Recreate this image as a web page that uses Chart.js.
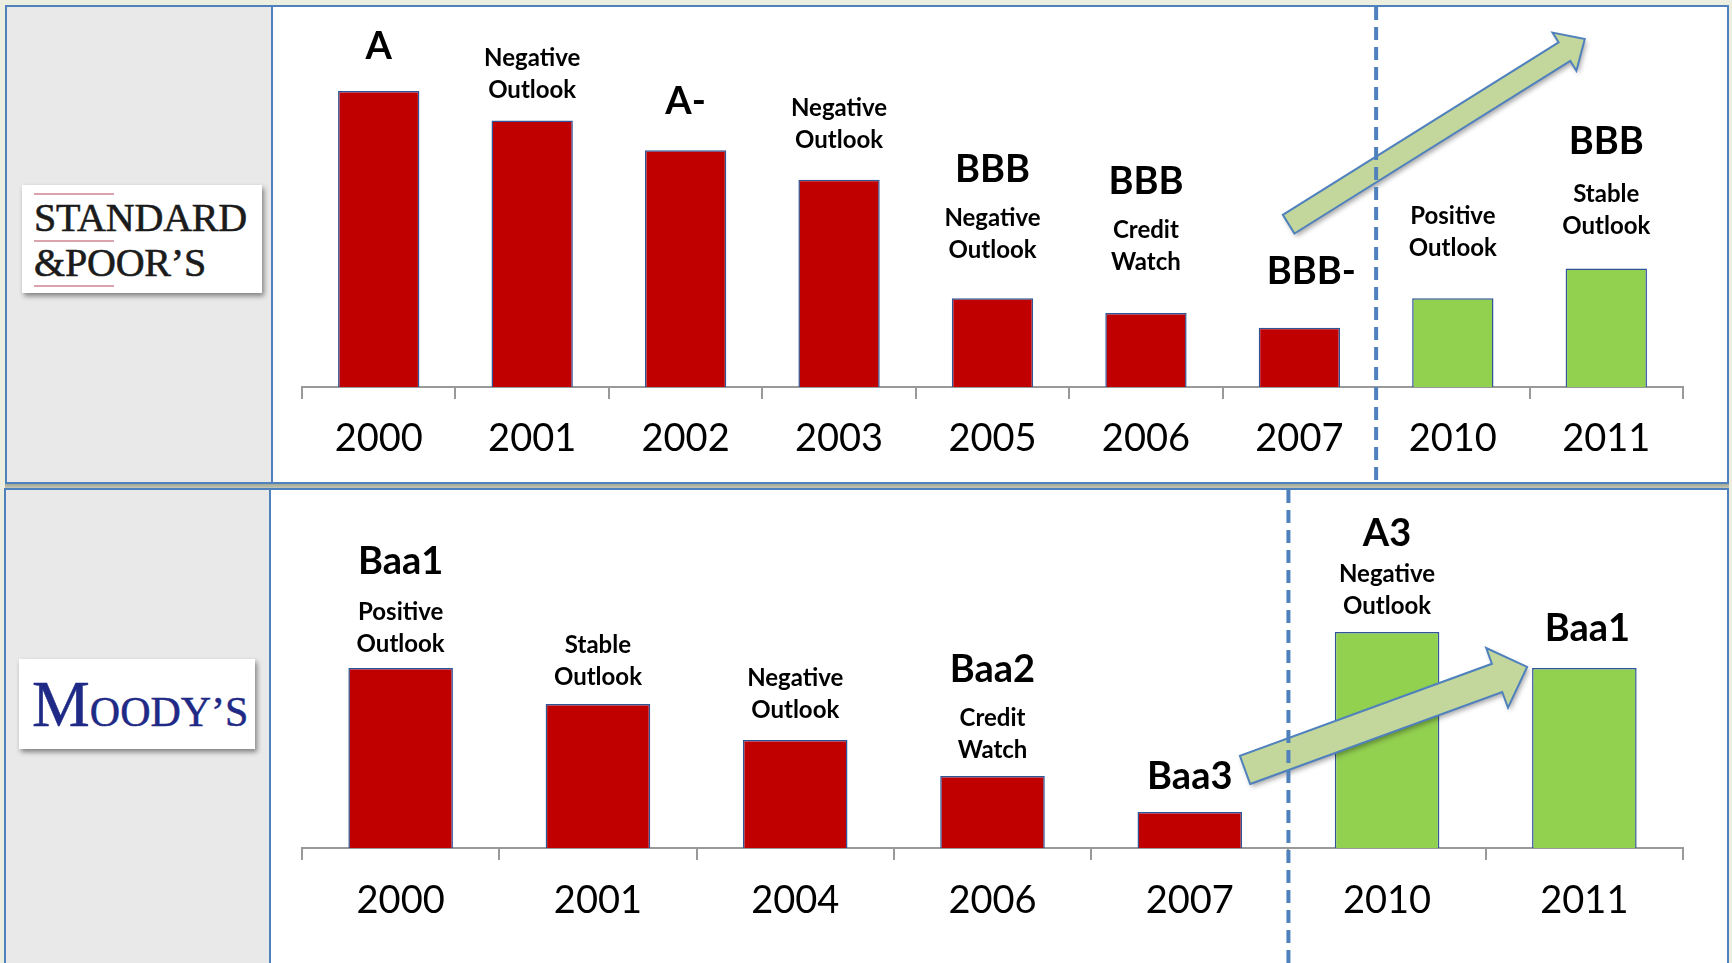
<!DOCTYPE html>
<html>
<head>
<meta charset="utf-8">
<script src="https://cdn.jsdelivr.net/npm/chart.js@4/dist/chart.umd.min.js"></script>
<style>
html,body{margin:0;padding:0;}
body{width:1732px;height:963px;background:#eceee0;position:relative;overflow:hidden;font-family:Lato,sans-serif;}
.panel{position:absolute;border:2px solid #4f81bd;background:#fff;box-sizing:border-box;}
#p1{left:5px;top:5px;width:1724px;height:479px;}
#p2{left:4px;top:488px;width:1725px;height:490px;}
.side{position:absolute;left:0;top:0;bottom:0;background:#e9e9e9;border-right:2px solid #4f81bd;}
#s1{width:264px;}
#s2{width:263px;}
#band{position:absolute;left:5px;top:484px;width:1724px;height:4px;background:linear-gradient(#a3a692,#c4c6b6);}
.logo{position:absolute;background:#fff;box-shadow:2px 3px 5px rgba(0,0,0,0.45);}
#sp{left:22px;top:185px;width:240px;height:108px;}
#md{left:19px;top:659px;width:236px;height:90px;}
.pink{position:absolute;left:12px;width:80px;height:2px;background:#dba3ab;}
.sptxt{position:absolute;left:12px;font-family:'Liberation Serif',serif;font-size:40px;line-height:40px;color:#1b1b1b;white-space:nowrap;letter-spacing:-0.2px;-webkit-text-stroke:0.6px #1b1b1b;}
.mdtxt{position:absolute;left:13px;font-family:'Liberation Serif',serif;color:#1f2a86;white-space:nowrap;font-size:65px;line-height:65px;-webkit-text-stroke:0.5px #1f2a86;}
.mdtxt span{font-size:42px;line-height:1;}
canvas{position:absolute;}
#c1{left:273px;top:7px;}
#c2{left:271px;top:490px;}
</style>
</head>
<body>
<div class="panel" id="p1"><div class="side" id="s1"></div></div>
<div id="band"></div>
<div class="panel" id="p2"><div class="side" id="s2"></div></div>

<div class="logo" id="sp">
  <div class="pink" style="top:8px"></div>
  <div class="sptxt" style="top:13px">STANDARD</div>
  <div class="pink" style="top:55px"></div>
  <div class="sptxt" style="top:58px">&amp;POOR’S</div>
  <div class="pink" style="top:100px"></div>
</div>
<div class="logo" id="md">
  <div class="mdtxt" style="top:13px">M<span>OODY’S</span></div>
</div>

<canvas id="c1" width="1454" height="475"></canvas>
<canvas id="c2" width="1456" height="473"></canvas>

<script>
// ---------- Standard & Poor's ----------
const spYears    = ['2000','2001','2002','2003','2005','2006','2007','2010','2011'];
const spValues   = [10, 9, 8, 7, 3, 2.5, 2, 3, 4];
const spRatings  = ['A','','A-','','BBB','BBB','BBB-','','BBB'];
const spOutlooks = ['','Negative Outlook','','Negative Outlook','Negative Outlook','Credit Watch','','Positive Outlook','Stable Outlook'];
const spTrend    = ['down','down','down','down','down','down','down','up','up'];
const spSplitAfter = '2007';

// ---------- Moody's ----------
const mdYears    = ['2000','2001','2004','2006','2007','2010','2011'];
const mdValues   = [5, 4, 3, 2, 1, 6, 5];
const mdRatings  = ['Baa1','','','Baa2','Baa3','A3','Baa1'];
const mdOutlooks = ['Positive Outlook','Stable Outlook','Negative Outlook','Credit Watch','','Negative Outlook',''];
const mdTrend    = ['down','down','down','down','down','up','up'];
const mdSplitAfter = '2007';

const trendColors = {down:'#c00000', up:'#92d050'};

function drawArrow(ctx, T, P, w, h, L) {
  const dx = P.x - T.x, dy = P.y - T.y;
  const len = Math.hypot(dx, dy);
  const ux = dx/len, uy = dy/len, nx = -uy, ny = ux;
  const J = {x: P.x - ux*L, y: P.y - uy*L};
  ctx.save();
  ctx.beginPath();
  ctx.moveTo(T.x + nx*w, T.y + ny*w);
  ctx.lineTo(J.x + nx*w, J.y + ny*w);
  ctx.lineTo(J.x + nx*h, J.y + ny*h);
  ctx.lineTo(P.x, P.y);
  ctx.lineTo(J.x - nx*h, J.y - ny*h);
  ctx.lineTo(J.x - nx*w, J.y - ny*w);
  ctx.lineTo(T.x - nx*w, T.y - ny*w);
  ctx.closePath();
  ctx.shadowColor = 'rgba(0,0,0,0.35)';
  ctx.shadowBlur = 5;
  ctx.shadowOffsetX = 2;
  ctx.shadowOffsetY = 3;
  ctx.fillStyle = '#c3d69b';
  ctx.fill();
  ctx.shadowColor = 'transparent';
  ctx.lineWidth = 2;
  ctx.strokeStyle = '#4f81bd';
  ctx.lineJoin = 'miter';
  ctx.stroke();
  ctx.restore();
}

const ratingPlugin = {
  id: 'ratingLabels',
  afterDatasetsDraw(chart, args, o) {
    const ctx = chart.ctx;
    const xs = chart.scales.x, ys = chart.scales.y;
    const meta = chart.getDatasetMeta(0);
    // trend arrow (anchored on the scales)
    const a = o.arrow;
    const T = {x: xs.getPixelForValue(a.from[0]), y: ys.getPixelForValue(a.from[1])};
    const P = {x: xs.getPixelForValue(a.to[0]), y: ys.getPixelForValue(a.to[1])};
    drawArrow(ctx, T, P, a.shaft, a.head, a.headLen);
    // dashed divider
    const labels = chart.data.labels;
    const i = labels.indexOf(o.splitAfter);
    const dxp = (xs.getPixelForValue(i) + xs.getPixelForValue(i+1)) / 2;
    ctx.save();
    ctx.setLineDash([13, 7]);
    ctx.lineWidth = 4;
    ctx.strokeStyle = '#4f81bd';
    ctx.beginPath();
    ctx.moveTo(dxp, 0);
    ctx.lineTo(dxp, chart.height);
    ctx.stroke();
    ctx.restore();
    // labels
    ctx.save();
    ctx.fillStyle = '#000';
    ctx.textAlign = 'center';
    ctx.textBaseline = 'middle';
    meta.data.forEach((bar, k) => {
      const nd = o.nudge[k] || [0, 0, 0];
      const x = bar.x + nd[0];
      const top = bar.y + nd[1];
      const rating = o.ratings[k];
      const outlook = o.outlooks[k];
      if (outlook) {
        const lines = outlook.split(' ');
        ctx.font = 'bold 24px Lato';
        const lastY = top - o.gapSmall;
        const firstY = lastY - (lines.length - 1) * o.lineGap;
        lines.forEach((ln, j) => ctx.fillText(ln, x, firstY + j * o.lineGap));
        if (rating) {
          ctx.font = 'bold 38px Lato';
          ctx.fillText(rating, x, firstY - o.bigGap - nd[2]);
        }
      } else if (rating) {
        ctx.font = 'bold 38px Lato';
        ctx.fillText(rating, x, top - o.gapBig);
      }
    });
    ctx.restore();
  }
};

function makeChart(id, years, values, trend, ratings, outlooks, splitAfter, yMax, pad, axisH, tickPad, arrow, gaps) {
  return new Chart(document.getElementById(id), {
    type: 'bar',
    data: {
      labels: years,
      datasets: [{
        data: values,
        backgroundColor: trend.map(t => trendColors[t]),
        borderColor: '#2e5597',
        borderWidth: 1.5,
        barPercentage: 0.53,
        categoryPercentage: 1.0
      }]
    },
    options: {
      responsive: false,
      animation: false,
      layout: {padding: pad},
      plugins: {
        legend: {display: false},
        tooltip: {enabled: false},
        ratingLabels: Object.assign({ratings: ratings, outlooks: outlooks, splitAfter: splitAfter, arrow: arrow}, gaps)
      },
      scales: {
        x: {
          offset: true,
          grid: {offset: true, drawOnChartArea: false, drawTicks: true, tickLength: 12, color: '#999999', lineWidth: 2},
          border: {display: true, color: '#999999', width: 2},
          ticks: {color: '#000', font: {family: 'Lato', size: 38}, padding: tickPad, maxRotation: 0, autoSkip: false},
          afterFit(s) { s.height = axisH; }
        },
        y: {display: false, min: 0, max: yMax}
      }
    },
    plugins: [ratingPlugin]
  });
}

// label placement tweaks per bar: [dx, dy, extra lift of rating above outlook]
makeChart('c1', spYears, spValues, spTrend, spRatings, spOutlooks, spSplitAfter, 12,
  {left: 29, right: 44, top: 24.8, bottom: 0}, 95, 17,
  {from: [5.93, 5.5], to: [7.86, 11.76], shaft: 11, head: 22.5, headLen: 24},
  {gapSmall: 44, gapBig: 49, lineGap: 32, bigGap: 48,
   nudge: [[0,5,0],[0,14,0],[0,1,0],[0,4,0],[0,-4,0],[0,-7,0],[12,-7,0],[0,-6,0],[0,2,5]]});

makeChart('c2', mdYears, mdValues, mdTrend, mdRatings, mdOutlooks, mdSplitAfter, 9,
  {left: 31, right: 44, top: 34, bottom: 0}, 115, 18,
  {from: [4.28, 2.17], to: [5.71, 5.03], shaft: 15, head: 31.8, headLen: 32},
  {gapSmall: 27, gapBig: 39, lineGap: 32, bigGap: 48,
   nudge: [[0,3,2],[0,0,0],[0,-3,0],[0,1,0],[0,4,0],[0,1,-8],[3,0,0]]});
</script>
</body>
</html>
